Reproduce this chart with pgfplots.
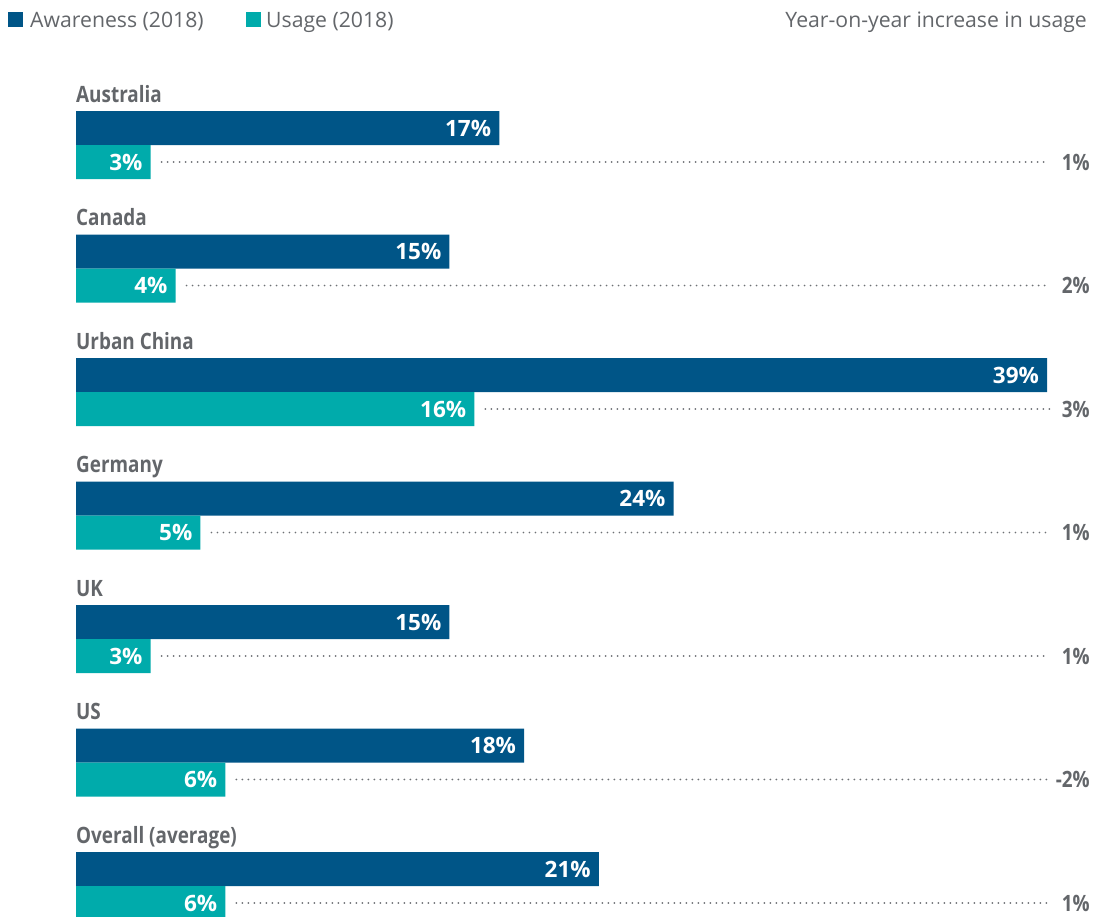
\documentclass[border=0pt]{standalone}
\usepackage{pgfplots}
\pgfplotsset{compat=1.18}
\usepackage{fontspec}
\setmainfont{Open Sans}
\newfontfamily\condfont[FakeStretch=0.84]{Open Sans Bold}
\newfontfamily\boldfont{Open Sans Bold}
\definecolor{aware}{HTML}{005587}
\definecolor{usage}{HTML}{00ABAB}
\definecolor{txtgray}{HTML}{63666A}
\definecolor{dotgray}{HTML}{6E7175}
\begin{document}
\begin{tikzpicture}
\useasboundingbox (0,0) rectangle (1094pt,-916pt);
% legend
\fill[aware] (8pt,-12pt) rectangle (23pt,-27pt);
\node[anchor=base west, inner sep=0pt, text=txtgray, font=\fontsize{21.2}{22}\selectfont] at (30pt,-27pt) {Awareness (2018)};
\fill[usage] (246pt,-12pt) rectangle (261pt,-27pt);
\node[anchor=base west, inner sep=0pt, text=txtgray, font=\fontsize{21.2}{22}\selectfont] at (266pt,-27pt) {Usage (2018)};
\node[anchor=base east, inner sep=0pt, text=txtgray, font=\fontsize{21.2}{22}\selectfont] at (1087pt,-27pt) {Year-on-year increase in usage};
\begin{axis}[
  at={(76pt,0pt)}, anchor=north west,
  scale only axis, width=1018pt, height=916pt,
  xmin=0, xmax=40.884, ymin=0, ymax=916, y dir=reverse,
  hide axis, clip=false,
  /pgf/number format/assume math mode=true,
  xbar, bar width=34pt, bar shift=0pt,
  every node near coord/.append style={anchor=east, inner sep=0pt, xshift=-8pt, text=white, font=\boldfont\fontsize{22.5}{23}\selectfont},
  nodes near coords={\pgfmathprintnumber{\pgfplotspointmeta}\%},
  point meta=x,
]
\addplot[fill=aware, draw=none] coordinates {
 (17,128) (15,251.5) (39,375) (24,498.5) (15,622) (18,745.5) (21,869)};
\addplot[fill=usage, draw=none] coordinates {
 (3,162) (4,285.5) (16,409) (5,532.5) (3,656) (6,779.5) (6,903)};
% dotted leaders
\pgfplotsset{leader/.style={dotgray, line width=1.9pt, dash pattern=on 0pt off 6pt, line cap=round, forget plot, nodes near coords={}}}
\addplot[leader, sharp plot] coordinates {(3.44,162) (39.1,162)};
\addplot[leader, sharp plot] coordinates {(4.44,285.5) (39.1,285.5)};
\addplot[leader, sharp plot] coordinates {(16.44,409) (39.1,409)};
\addplot[leader, sharp plot] coordinates {(5.44,532.5) (39.1,532.5)};
\addplot[leader, sharp plot] coordinates {(3.44,656) (39.1,656)};
\addplot[leader, sharp plot] coordinates {(6.44,779.5) (39.1,779.5)};
\addplot[leader, sharp plot] coordinates {(6.44,903) (39.1,903)};
% category labels
\foreach \lab/\yy in {Australia/128, Canada/251.5, Urban China/375, Germany/498.5, UK/622, US/745.5, Overall (average)/869}{
  \edef\tmp{\noexpand\node[anchor=base west, inner sep=0pt, text=txtgray, font=\noexpand\condfont\noexpand\fontsize{22.5}{23}\noexpand\selectfont] at (axis cs:0,\yy-26) {\lab};}\tmp
}
% year-on-year values
\foreach \v/\yy in {1/162, 2/285.5, 3/409, 1/532.5, 1/656, -2/779.5, 1/903}{
  \edef\tmp{\noexpand\node[anchor=east, inner sep=0pt, text=txtgray, font=\noexpand\condfont\noexpand\fontsize{22.5}{23}\noexpand\selectfont] at (axis cs:40.72,\yy) {\v\noexpand\%};}\tmp
}
\end{axis}
\end{tikzpicture}
\end{document}
